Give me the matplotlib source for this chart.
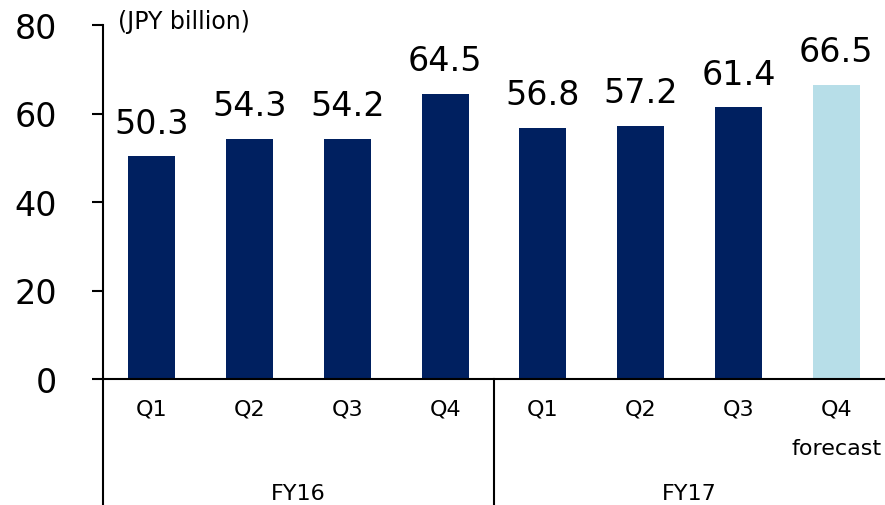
import matplotlib.pyplot as plt
import matplotlib.transforms as mtransforms

quarters = ['Q1', 'Q2', 'Q3', 'Q4', 'Q1', 'Q2', 'Q3', 'Q4']
years = ['FY16', 'FY17']
values = [50.3, 54.3, 54.2, 64.5, 56.8, 57.2, 61.4, 66.5]
forecast = [False, False, False, False, False, False, False, True]

navy = '#002060'
light = '#B7DEE8'

plt.rcParams['font.family'] = ['DejaVu Sans']

fig = plt.figure(figsize=(8.85, 5.06), dpi=100)
ax = fig.add_axes([103 / 885, 126 / 506, 782 / 885, 354 / 506])

x = list(range(len(values)))
colors = [light if f else navy for f in forecast]
ax.bar(x, values, width=0.48, color=colors)

for xi, v in zip(x, values):
    ax.annotate(f'{v:.1f}', (xi, v), xytext=(0, 12), textcoords='offset points',
                ha='center', va='bottom', fontsize=24)

ax.set_xlim(-0.5, len(values) - 0.5)
ax.set_ylim(0, 80)
ax.set_yticks([0, 20, 40, 60, 80])
ax.tick_params(axis='y', labelsize=24, length=8, width=1.5, pad=25)
ax.set_xticks([])

for s in ['top', 'right']:
    ax.spines[s].set_visible(False)
ax.spines['left'].set_linewidth(1.5)
ax.spines['bottom'].set_linewidth(1.5)

trans = mtransforms.blended_transform_factory(ax.transData, ax.transAxes)
bottom = -126 / 354
fs = 16

# quarter labels
for xi, q in zip(x, quarters):
    ax.text(xi, -30 / 354, q, transform=trans, ha='center', va='center', fontsize=fs)
ax.text(x[-1], -69 / 354, 'forecast', transform=trans, ha='center', va='center', fontsize=fs)

# fiscal year labels and separators
ax.text(1.5, -114 / 354, years[0], transform=trans, ha='center', va='center', fontsize=fs)
ax.text(5.5, -114 / 354, years[1], transform=trans, ha='center', va='center', fontsize=fs)
for sx in [-0.5, 3.5]:
    ax.plot([sx, sx], [0, bottom], transform=trans, color='black', lw=1.5, clip_on=False)

fig.text(118 / 885, 1 - 22 / 506, '(JPY billion)', fontsize=17, ha='left', va='center')

fig.savefig('out.png', dpi=100)
